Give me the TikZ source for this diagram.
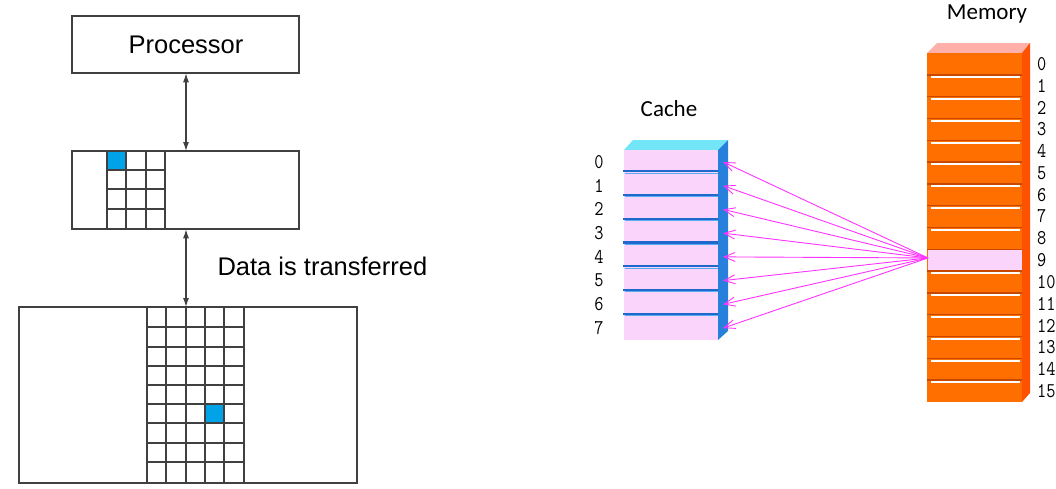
\documentclass[tikz,border=0pt]{standalone}
\usepackage{fontspec}
\usepackage{graphicx}
\setmainfont{Liberation Sans}
\newfontfamily\calfont{Carlito}
\usetikzlibrary{arrows.meta}
\definecolor{lineg}{HTML}{404040}
\definecolor{cellblue}{HTML}{00A2E8}
\definecolor{cpink}{HTML}{FAD4FA}
\definecolor{ctop}{HTML}{72E6F6}
\definecolor{cside}{HTML}{2680DC}
\definecolor{csep}{HTML}{1E6ACC}
\definecolor{csepl}{HTML}{5AAAF0}
\definecolor{morange}{HTML}{FF6F00}
\definecolor{mside}{HTML}{FF5200}
\definecolor{mtop}{HTML}{FFB0A8}
\definecolor{msep}{HTML}{C84800}
\definecolor{mag}{HTML}{FF33FF}
\newcommand{\dg}[1]{\scalebox{0.85}[1]{#1}}
\tikzset{
  boxed/.style={draw=lineg, line width=1.3pt, rectangle, inner sep=0pt},
  gridl/.style={draw=lineg, line width=1.1pt},
  darrow/.style={draw=lineg, line width=1.1pt, {Latex[length=9pt,width=6pt]}-{Latex[length=9pt,width=6pt]}},
  magarrow/.style={draw=mag, line width=0.9pt, -{Straight Barb[length=11pt,width=9pt]}},
  bigtext/.style={font=\fontsize{25.5}{25.5}\selectfont},
  caltext/.style={font=\calfont\fontsize{23}{23}\selectfont},
  digit/.style={font=\ttfamily\fontsize{21}{21}\selectfont, inner sep=0pt},
}
\begin{document}
\begin{tikzpicture}[x=1pt,y=-1pt]
\useasboundingbox (0,0) rectangle (1056,488);
% ---------------- left: processor / cache / memory ----------------
\node[boxed, minimum width=226pt, minimum height=56pt, anchor=north west] (proc) at (72,16) {};
\node[bigtext] (proctext) at (186,45) {Processor};
\node[boxed, minimum width=226pt, minimum height=77pt, anchor=north west] (cbox) at (72,151) {};
\node[boxed, minimum width=337pt, minimum height=175pt, anchor=north west] (mbox) at (19,307) {};
% cache grid
\fill[cellblue] (107,151) rectangle (126,170);
\foreach \x in {107,126,146,165} \draw[gridl] (\x,151) -- (\x,228);
\foreach \y in {170,189,209} \draw[gridl] (107,\y) -- (165,\y);
% memory grid
\fill[cellblue] (205,404) rectangle (224,423);
\foreach \x in {147,166,186,205,224,244} \draw[gridl] (\x,307) -- (\x,482);
\foreach \y in {327,347,366,385,404,423,443,462} \draw[gridl] (147,\y) -- (244,\y);
% redraw box outlines on top
\draw[boxed] (proc.north west) rectangle (proc.south east);
\draw[boxed] (cbox.north west) rectangle (cbox.south east);
\draw[boxed] (mbox.north west) rectangle (mbox.south east);
% arrows
\draw[darrow] (proc.south -| 186,0) -- (cbox.north -| 186,0);
\draw[darrow] (cbox.south -| 186,0) -- (mbox.north -| 186,0);
\node[bigtext, anchor=base west] (dtext) at (214,275) {Data is transferred};
% ---------------- right: cache column ----------------
\node[caltext] (cachelbl) at (669,109) {Cache};
\fill[ctop] (624,150) -- (633,140) -- (728,140) -- (718,150) -- cycle;
\fill[cside] (718,150) -- (728,140) -- (728,331) -- (718,340) -- cycle;
\foreach \k in {0,...,7} {
  \node[fill=cpink, rectangle, inner sep=0pt, minimum width=94pt, minimum height=23.75pt, anchor=north west]
    (c\k) at (624,{150+23.75*\k}) {};
  \coordinate (t\k) at (723,{150+23.75*(\k+0.5)});
  \node[digit] (cl\k) at (599,{150+23.75*(\k+0.5)}) {\dg{\k}};
}
\foreach \k in {1,...,7} {
  \draw[csep, line width=2.2pt] (623,{150+23.75*\k-2.5}) -- (718,{150+23.75*\k-2.5});
  \draw[csepl, line width=1pt] (625,{150+23.75*\k-0.6}) -- (718,{150+23.75*\k-0.6});
}
% ---------------- right: memory column ----------------
\node[caltext] (memlbl) at (987,14) {Memory};
\fill[mtop] (927,53) -- (937,43) -- (1030,43) -- (1022,53) -- cycle;
\fill[mside] (1022,53) -- (1030,43) -- (1030,393) -- (1022,402) -- cycle;
\fill[morange] (927,53) rectangle (1022,402);
\foreach \k in {1,...,15} {
  \draw[msep, line width=1.4pt] (927,{53+21.8*\k}) -- (1022,{53+21.8*\k});
  \draw[white, line width=2pt] (931,{53+21.8*\k+2.4}) -- (1020,{53+21.8*\k+2.4});
}
\node[fill=cpink, rectangle, inner sep=0pt, minimum width=94pt, minimum height=20.5pt, anchor=north west]
  (m9) at (928,249.5) {};
\foreach \k in {0,...,15} {
  \node[digit, anchor=west] (ml\k) at (1037,{53+21.8*(\k+0.5)}) {\dg{\k}};
}
% ---------------- magenta arrows ----------------
\foreach \k in {0,...,7} {
  \draw[magarrow] ([yshift=2pt]m9.west) -- (t\k);
}
\end{tikzpicture}
\end{document}
